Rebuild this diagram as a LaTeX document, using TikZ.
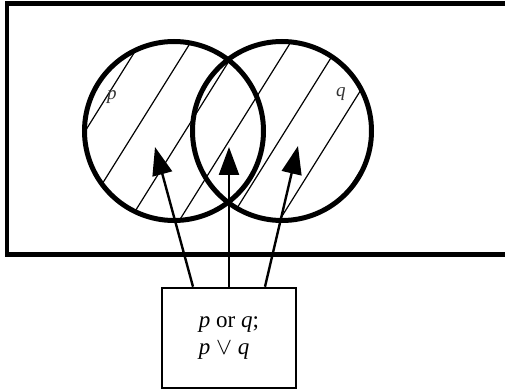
\documentclass[tikz,border=0pt]{standalone}
\usepackage{fontspec}
\setmainfont{Liberation Serif}
\usepackage{tikz}
\usetikzlibrary{arrows.meta,positioning}

\begin{document}
\begin{tikzpicture}[
  x=0.5pt, y=-0.5pt,
  frame/.style={line width=2.5pt},
  venn/.style={circle, draw, line width=2.5pt, minimum size=89.5pt, inner sep=0pt},
  hatch/.style={line width=0.6pt},
  arrow/.style={-{Triangle[length=14pt, width=10pt]}, line width=1.2pt},
  lbl/.style={font=\fontsize{9.5}{11}\selectfont\itshape, text=black!80},
  box/.style={rectangle, draw, line width=1.3pt, minimum width=67pt,
              minimum height=50pt, align=left, inner sep=3pt,
              font=\fontsize{11.5}{13.5}\selectfont}
]
  \useasboundingbox (0,0) rectangle (505,391);

  % ── universe ──
  \draw[frame] (505,4) -- (7,4) -- (7,255) -- (505,255);

  % ── hatching of p or q ──
  \coordinate (op) at (174,131);
  \coordinate (oq) at (282,131);
  \begin{scope}
    \clip (op) circle[radius=44.75pt] (oq) circle[radius=44.75pt];
    \foreach \x in {84,134,...,384}
      \draw[hatch] ({\x+70},21) -- ({\x-70},245);
  \end{scope}

  % ── sets ──
  \node[venn] (cp) at (op) {};
  \node[venn] (cq) at (oq) {};
  \node[lbl] (lp) at (112,97) {p};
  \node[lbl] (lq) at (341,94) {q};

  % ── statement ──
  \node[box] (box) at (229,338) {\textit{p} or \textit{q};\\\textit{p} $\vee$ \textit{q}};

  \coordinate (tipL) at (155,147);
  \coordinate (tipM) at (229,147);
  \coordinate (tipR) at (298,146);
  \draw[arrow] ([xshift=-18pt]box.north) -- (tipL);
  \draw[arrow] (box.north) -- (tipM);
  \draw[arrow] ([xshift=18pt]box.north) -- (tipR);
\end{tikzpicture}
\end{document}
